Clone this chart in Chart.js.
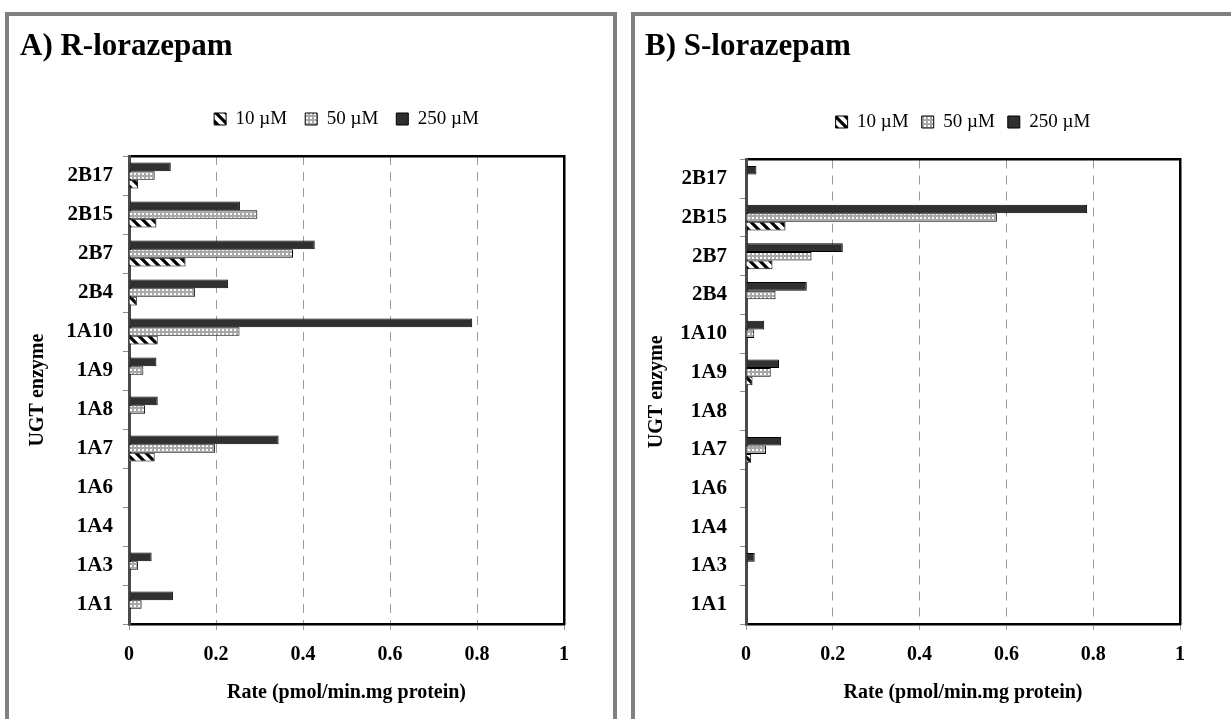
<!DOCTYPE html>
<html>
<head>
<meta charset="utf-8">
<script src="https://cdn.jsdelivr.net/npm/chart.js@4"></script>
<style>
  html, body { margin: 0; padding: 0; background: #fff; width: 1231px; height: 719px; overflow: hidden; }
  .panel { position: absolute; top: 12px; height: 760px; border: 4px solid #808080; box-sizing: border-box; background: #fff; }
  #panelA { left: 5px; width: 612px; }
  #panelB { left: 631px; width: 640px; }
  canvas { display: block; }
</style>
</head>
<body>
<div class="panel" id="panelA"><canvas id="chartA" width="604" height="703"></canvas></div>
<div class="panel" id="panelB"><canvas id="chartB" width="596" height="703"></canvas></div>
<script>
// UGT isoforms, listed top to bottom
const enzymes = ['2B17', '2B15', '2B7', '2B4', '1A10', '1A9', '1A8', '1A7', '1A6', '1A4', '1A3', '1A1'];
const concentrations = ['10 µM', '50 µM', '250 µM'];

// Glucuronidation rate (pmol/min.mg protein), R-lorazepam
const rLor10  = [0.021, 0.063, 0.130, 0.018, 0.066, 0,     0,     0.059, 0, 0, 0,     0];
const rLor50  = [0.059, 0.295, 0.377, 0.152, 0.254, 0.033, 0.037, 0.198, 0, 0, 0.021, 0.029];
const rLor250 = [0.096, 0.255, 0.427, 0.228, 0.789, 0.063, 0.066, 0.344, 0, 0, 0.052, 0.101];

// Glucuronidation rate (pmol/min.mg protein), S-lorazepam
const sLor10  = [0,     0.091, 0.061, 0,     0,     0.015, 0, 0.012, 0, 0, 0,     0];
const sLor50  = [0,     0.578, 0.151, 0.068, 0.019, 0.057, 0, 0.046, 0, 0, 0,     0];
const sLor250 = [0.024, 0.786, 0.223, 0.140, 0.042, 0.076, 0, 0.081, 0, 0, 0.020, 0];

const rateTicks = ['0', '0.2', '0.4', '0.6', '0.8', '1'];

const SERIF = "'Liberation Serif', 'Times New Roman', serif";
Chart.defaults.font.family = SERIF;
Chart.defaults.color = '#000';

function hatchFill(ctx) {
  const c = document.createElement('canvas');
  c.width = 10; c.height = 10;
  const g = c.getContext('2d');
  g.fillStyle = '#fff';
  g.fillRect(0, 0, 10, 10);
  g.strokeStyle = '#000';
  g.lineWidth = 3.2;
  g.beginPath();
  g.moveTo(-3, -3); g.lineTo(13, 13);
  g.moveTo(-3, 7); g.lineTo(3, 13);
  g.moveTo(7, -3); g.lineTo(13, 3);
  g.stroke();
  return ctx.createPattern(c, 'repeat');
}

function dotFill(ctx) {
  const c = document.createElement('canvas');
  c.width = 4; c.height = 4;
  const g = c.getContext('2d');
  g.fillStyle = '#a8a8a8';
  g.fillRect(0, 0, 4, 4);
  g.fillStyle = '#fff';
  g.fillRect(1, 1, 2, 2);
  return ctx.createPattern(c, 'repeat');
}

function buildChart(canvasId, titleText, series, geo) {
  const ctx = document.getElementById(canvasId).getContext('2d');
  const fills = [hatchFill(ctx), dotFill(ctx), '#303030'];
  // highest concentration first so it sits on top within each group
  const datasets = [2, 1, 0].map(i => ({
    label: concentrations[i],
    data: series[i],
    backgroundColor: fills[i],
    borderColor: '#000',
    borderWidth: 1,
    categoryPercentage: 0.667,
    barPercentage: 1
  }));

  return new Chart(ctx, {
    type: 'bar',
    data: { labels: enzymes, datasets },
    options: {
      indexAxis: 'y',
      responsive: false,
      animation: false,
      devicePixelRatio: 1,
      layout: { padding: { left: geo.padLeft, right: geo.padRight, top: 0, bottom: 0 } },
      plugins: {
        tooltip: { enabled: false },
        title: {
          display: true,
          text: titleText,
          align: 'start',
          color: '#000',
          font: { family: SERIF, size: 31, weight: 'bold' },
          padding: { top: 12, bottom: geo.titlePadBottom }
        },
        legend: {
          display: true,
          position: 'top',
          fullSize: false,
          reverse: true,
          labels: {
            boxWidth: 12,
            boxHeight: 12,
            padding: geo.legendPad,
            color: '#000',
            font: { family: SERIF, size: 19 }
          }
        }
      },
      scales: {
        x: {
          type: 'linear',
          position: 'bottom',
          min: 0,
          max: 1,
          grid: { color: '#9a9a9a', lineWidth: 1, tickLength: 6, tickColor: '#9a9a9a', tickWidth: 1 },
          border: { display: true, color: '#000', width: 2.5, dash: [9, 7] },
          ticks: {
            stepSize: 0.2,
            padding: 13,
            autoSkip: false,
            maxRotation: 0,
            color: '#000',
            font: { family: SERIF, size: 20, weight: 'bold' },
            callback: (v, i) => rateTicks[i]
          },
          title: {
            display: true,
            text: 'Rate (pmol/min.mg protein)',
            color: '#000',
            font: { family: SERIF, size: 20, weight: 'bold' },
            padding: { top: 0, bottom: 14 }
          },
          afterFit: s => { s.height = 95; }
        },
        x2: {
          type: 'linear',
          position: 'top',
          display: true,
          grid: { display: false },
          ticks: { display: false },
          border: { display: true, color: '#000', width: 2.5 },
          afterFit: s => { s.height = geo.topGap; }
        },
        y: {
          type: 'category',
          position: 'left',
          offset: true,
          z: 1,
          grid: { display: true, offset: true, drawOnChartArea: false, drawTicks: true, tickLength: 6, color: '#8c8c8c', tickColor: '#8c8c8c' },
          border: { display: true, color: '#4a4a4a', width: 3 },
          ticks: {
            autoSkip: false,
            padding: geo.yTickPad,
            color: '#000',
            font: { family: SERIF, size: 21, weight: 'bold' }
          },
          title: {
            display: true,
            text: 'UGT enzyme',
            color: '#000',
            font: { family: SERIF, size: 20, weight: 'bold' },
            padding: { top: geo.yTitlePad, bottom: 0 }
          },
          afterFit: s => { s.width = geo.yWidth; }
        },
        y2: {
          type: 'linear',
          position: 'right',
          display: true,
          z: 1,
          grid: { display: false },
          ticks: { display: false },
          border: { display: true, color: '#000', width: 2.5 },
          afterFit: s => { s.width = 0; }
        }
      }
    }
  });
}

buildChart('chartA', 'A) R-lorazepam', [rLor10, rLor50, rLor250], {
  padLeft: 11, padRight: 49, yWidth: 109, yTickPad: 10, yTitlePad: 6,
  titlePadBottom: 26.3, legendPad: 18, topGap: 17.5
});

buildChart('chartB', 'B) S-lorazepam', [sLor10, sLor50, sLor250], {
  padLeft: 10, padRight: 51, yWidth: 101, yTickPad: 13, yTitlePad: 0,
  titlePadBottom: 34.3, legendPad: 13, topGap: 18
});
</script>
</body>
</html>
